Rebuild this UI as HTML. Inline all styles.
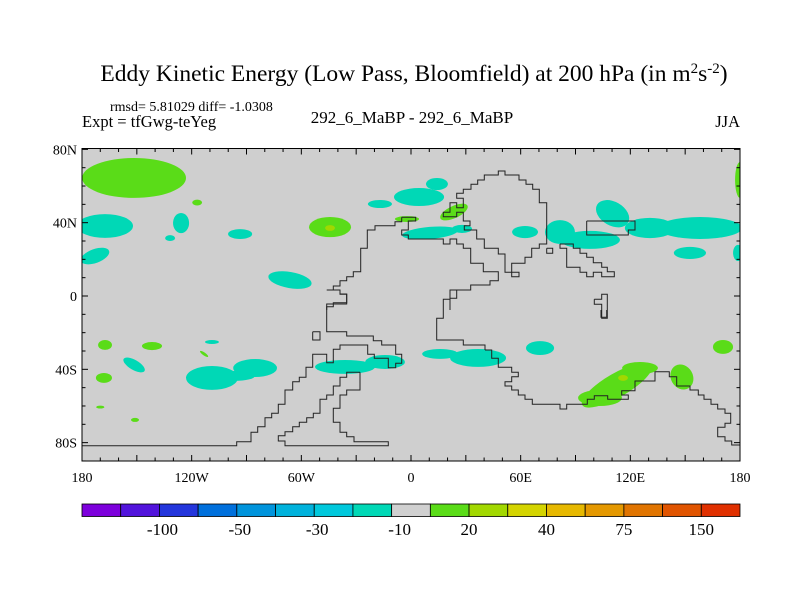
<!DOCTYPE html>
<html><head><meta charset="utf-8"><style>
body{margin:0;background:#fff;}
svg{display:block;font-family:"Liberation Serif",serif;}
</style></head><body>
<svg id="c" width="800" height="600" viewBox="0 0 800 600">
<rect width="800" height="600" fill="#fff"/>
<text x="414" y="81" text-anchor="middle" font-size="23.5">Eddy Kinetic Energy (Low Pass, Bloomfield) at 200 hPa (in m<tspan dy="-8" font-size="15">2</tspan><tspan dy="8">s</tspan><tspan dy="-8" font-size="15">-2</tspan><tspan dy="8">)</tspan></text>
<text x="110" y="111" font-size="14">rmsd= 5.81029 diff= -1.0308</text>
<text x="82" y="127" font-size="16.5">Expt = tfGwg-teYeg</text>
<text x="412" y="123" text-anchor="middle" font-size="17">292_6_MaBP - 292_6_MaBP</text>
<text x="740" y="127" text-anchor="end" font-size="16.5">JJA</text>
<defs><clipPath id="pc"><rect x="82" y="148.5" width="658" height="312.5"/></clipPath></defs>
<g id="plot" clip-path="url(#pc)"><rect x="82" y="148.5" width="658" height="312.5" fill="#cfcfcf"/></g>
<g id="coast" fill="none" stroke="#222" stroke-width="1" clip-path="url(#pc)"></g>
<rect x="82" y="148.5" width="658" height="312.5" fill="none" stroke="#000" stroke-width="1"/>
<g id="ticks" stroke="#000" stroke-width="1"></g>
<g id="labels" font-size="14"></g>
<g id="cbar"></g>
</svg>
<script>
// ---- data ----
const lonTicks = [-180,-120,-60,0,60,120,180];
const lonLabels = ["180","120W","60W","0","60E","120E","180"];
const latTicks = [80,40,0,-40,-80];
const latLabels = ["80N","40N","0","40S","80S"];
const levelLabels = ["-100","-50","-30","-10","20","40","75","150"];
const levelColors = ["#7d00dc","#5214dc","#2436dc","#0070dc","#0094dc","#00b2dc","#00c8dc","#00d8b6","#d0d0d0","#5adc18","#a2d800","#d4d400","#e6b800","#e49800","#e07400","#e05400","#e03000"];
// blobs: center lon/lat, radii (deg), rotation (deg), colour index
const blobLon = [-151.5,-117,-167.4,-125.8,-131.8,-93.5,-172.9,-66.2,-44.3,-44.3,14.2,4.4,-17,-2.2,23.5,10.4,27.9,62.4,81.5,97.9,110.3,130.7,158.1,152.6,178.9,180,-167.4,-141.7,-108.9,-113.2,-151.5,-168,-170,-151,-108.9,-85.3,-96.4,-36.1,-14.2,15.9,36.7,70.6,170.7,112.7,103.4,125.3,116,148.2];
const blobLat = [64.4,51,38.2,39.8,31.6,33.8,21.8,8.7,37.6,37.1,61.1,54,50.2,42,45.8,34.4,36.6,34.9,34.9,30.6,44.9,37.1,37.1,23.5,23.5,63.3,-26.7,-27.3,-25.1,-31.6,-37.6,-44.7,-60.6,-67.6,-44.7,-39.3,-43.6,-38.7,-36,-31.6,-33.8,-28.4,-27.8,-48.6,-55.6,-39.3,-44.7,-44.2];
const blobRx = [28.4,2.7,15.3,4.4,2.7,6.6,8.2,12,11.5,2.7,6,13.7,6.6,6.6,8.2,15.3,5.5,7.1,8.2,16.4,9.8,13.7,23,8.8,2.7,2.7,3.8,5.5,3.8,2.7,6.6,4.4,2.2,2.2,14.2,12,11,16.4,10.9,9.8,15.3,7.7,5.5,21.9,12,9.8,2.7,7.1];
const blobRy = [10.9,1.6,6.5,5.5,1.6,2.7,3.8,4.4,5.5,1.6,3.3,4.9,2.2,1.6,3.3,3.3,2.2,3.3,6.5,4.9,6.5,5.5,6,3.3,4.4,9.8,2.7,2.2,1.1,0.8,2.7,2.7,0.8,1.1,6.5,4.9,2.7,3.8,3.8,2.7,4.9,3.8,3.8,6.5,4.4,3.3,1.6,6];
const blobRot = [0,0,0,0,0,0,-20,10,0,0,0,0,0,0,-25,-5,0,0,0,0,30,0,0,0,0,0,0,0,0,35,30,0,0,0,0,0,0,0,0,0,0,0,0,-30,0,0,0,60];
const blobLevel = [9,9,7,7,7,7,7,7,9,10,7,7,7,9,9,7,7,7,7,7,7,7,7,7,7,9,9,9,7,9,7,9,9,9,7,7,7,7,7,7,7,7,9,9,9,9,10,9];

// ---- axes ----
const X0=82,X1=740,Y0=148.5,Y1=461;
const xS = lon => X0 + (lon+180)*(X1-X0)/360;
const yS = lat => 296 - lat*1.833;
const pxPerLon=(X1-X0)/360, pxPerLat=1.833;
const NS="http://www.w3.org/2000/svg";
function mk(tag,attrs,parent){const e=document.createElementNS(NS,tag);for(const k in attrs)e.setAttribute(k,attrs[k]);parent.appendChild(e);return e;}

const plot=document.getElementById('plot');
const order=[...blobLon.keys()].sort((a,b)=>Math.abs(blobLevel[a]-8)-Math.abs(blobLevel[b]-8));
order.forEach(i=>{
  const cx=xS(blobLon[i]), cy=yS(blobLat[i]);
  const e=mk('ellipse',{cx:cx,cy:cy,rx:blobRx[i]*pxPerLon,ry:blobRy[i]*pxPerLat,fill:levelColors[blobLevel[i]],transform:`rotate(${blobRot[i]} ${cx} ${cy})`},plot);
  
  
});

// ---- coastlines (traced outline, map background) ----
const coastSegs = [
 [280,160,[[365,172],[407,172],[407,183],[385,183],[385,210],[365,210],[365,225],[385,225],[385,237],[490,237],[490,252],[510,252],[510,237],[530,237],[530,252],[550,252],[550,265],[572,265],[572,310],[610,310],[610,335],[655,335],[655,362],[630,362],[630,375],[572,375],[572,390],[530,390],[530,415],[510,415],[510,450]]],
 [230,290,[[680,0],[660,0],[660,28],[640,28],[640,85],[620,85],[620,150],[700,150],[700,165],[765,165],[765,180]]],
 [480,310,[[15,120],[35,120],[35,145],[55,145],[55,172],[95,172],[95,187],[115,187],[115,200],[95,200],[95,215],[75,215],[75,228],[95,228],[95,240],[115,240],[115,255],[135,255],[135,268],[157,268],[157,283],[240,283],[240,297],[260,297],[260,283],[322,283],[322,268],[343,268],[343,257],[383,257],[383,268],[445,268],[445,255],[425,255],[425,242],[465,242],[465,213],[525,213],[525,185],[568,185],[568,200],[590,200],[590,228],[630,228],[630,240],[655,240],[655,255],[672,255],[672,268],[693,268],[693,283],[713,283],[713,297],[735,297],[735,310],[752,310],[752,340],[735,340],[735,352],[713,352],[713,380],[735,380],[735,393],[755,393],[755,405],[790,405]]],
 [480,310,[[363,0],[363,22],[380,22],[380,0]]],
 [280,160,[[365,172],[365,185],[345,185],[345,197],[285,197],[285,210],[262,210],[262,265],[242,265],[242,335],[220,335],[220,350],[200,350],[200,362],[180,362],[180,378],[160,378],[160,390],[180,390],[180,403],[200,403],[200,428],[160,428],[160,440],[140,440],[140,450]]],
 [230,290,[[290,0],[330,0],[330,12],[350,12],[350,42],[290,42],[290,125],[350,125],[350,138],[430,138],[430,152],[455,152],[455,165],[497,165],[497,193],[515,193],[515,220],[497,220],[497,233],[475,233],[475,205],[433,205],[433,193],[413,193],[413,165],[330,165],[330,178],[310,178],[310,218],[290,218],[290,193],[248,193],[248,232],[228,232],[228,262],[208,262],[208,275],[188,275],[188,300],[165,300],[165,343],[145,343],[145,370],[125,370],[125,383],[105,383],[105,410],[83,410],[83,427],[63,427],[63,455],[20,455],[20,467],[-500,467]]],
 [230,290,[[390,247],[350,247],[350,262],[330,262],[330,288],[310,288],[310,315],[290,315],[290,328],[270,328],[270,370],[250,370],[250,383],[230,383],[230,397],[208,397],[208,410],[188,410],[188,425],[165,425],[165,437],[145,437],[145,453],[165,453],[165,467],[475,467],[475,455],[372,455],[372,440],[350,440],[350,427],[330,427],[330,397],[310,397],[310,355],[330,355],[330,315],[350,315],[350,300],[390,300],[390,247]]],
 [230,290,[[248,125],[270,125],[270,150],[248,150],[248,125]]],
 [420,160,[[150,210],[170,210],[170,237],[193,237],[193,265],[235,265],[235,282],[255,282],[255,337],[275,337],[275,350],[297,350],[297,337],[275,337],[275,310],[315,310],[315,292],[335,292],[335,265],[358,265],[358,252],[380,252],[380,128],[358,128],[358,88],[338,88],[338,73],[318,73],[318,60],[297,60],[297,45],[255,45],[255,33],[235,33],[235,45],[193,45],[193,60],[173,60],[173,73],[153,73],[153,88],[130,88],[130,100],[110,100],[110,115],[130,115],[130,143],[110,143],[110,128],[90,128],[90,157],[70,157],[70,170],[110,170],[110,157],[130,157],[130,183],[150,183],[150,197],[133,197],[133,210],[150,210]]],
 [420,160,[[380,265],[398,265],[398,280],[380,280],[380,265]]],
 [420,160,[[420,252],[460,252],[460,265],[480,265],[480,280],[500,280],[500,292],[520,292],[520,308],[545,308],[545,322],[562,322],[562,335],[583,335],[583,350],[545,350],[545,337],[520,337],[520,350],[500,350],[500,337],[480,337],[480,322],[440,322],[440,265],[420,265],[420,252]]],
 [420,160,[[500,183],[645,183],[645,210],[625,210],[625,225],[500,225],[500,183]]],
 [420,160,[[523,418],[545,418],[545,403],[562,403],[562,475],[545,475],[545,433],[523,433],[523,418]]]
];
const coast=document.getElementById('coast');
coastSegs.forEach(s=>{
  const p=mk('polyline',{points:s[2].map(q=>(s[0]+q[0]/3).toFixed(1)+','+(s[1]+q[1]/3).toFixed(1)).join(' ')},coast);
  
  
});

// ---- ticks ----
const tk=document.getElementById('ticks');
for(let lon=-180;lon<=180;lon+=10){
  const x=xS(lon), L=(lon%30===0)?6:3.5;
  mk('line',{x1:x,y1:Y1,x2:x,y2:Y1-L},tk);
  mk('line',{x1:x,y1:Y0,x2:x,y2:Y0+L},tk);
}
for(let lat=-90;lat<=80;lat+=10){
  const y=yS(lat), L=(lat%40===0)?6:3.5;
  if(y<Y0||y>Y1) continue;
  mk('line',{x1:X0,y1:y,x2:X0+L,y2:y},tk);
  mk('line',{x1:X1,y1:y,x2:X1-L,y2:y},tk);
}
const lb=document.getElementById('labels');
lonTicks.forEach((v,i)=>{
  const t=mk('text',{x:xS(v),y:482,'text-anchor':'middle'},lb);t.textContent=lonLabels[i];
  
  
});
latTicks.forEach((v,i)=>{
  const t=mk('text',{x:77,y:yS(v)+5,'text-anchor':'end'},lb);t.textContent=latLabels[i];
  
  
});

// ---- colorbar ----
const cb=document.getElementById('cbar');
const bw=(X1-X0)/levelColors.length;
levelColors.forEach((c,i)=>{
  const r=mk('rect',{x:X0+i*bw,y:504,width:bw,height:12.5,fill:c,stroke:'#000','stroke-width':0.8},cb);
  
  
});
levelLabels.forEach((s,i)=>{
  const t=mk('text',{x:X0+(2*i+2)*bw+(i===3?8:(i<3?3:0)),y:535,'text-anchor':'middle','font-size':17},cb);t.textContent=s;
  
  
});
</script>
</body></html>
